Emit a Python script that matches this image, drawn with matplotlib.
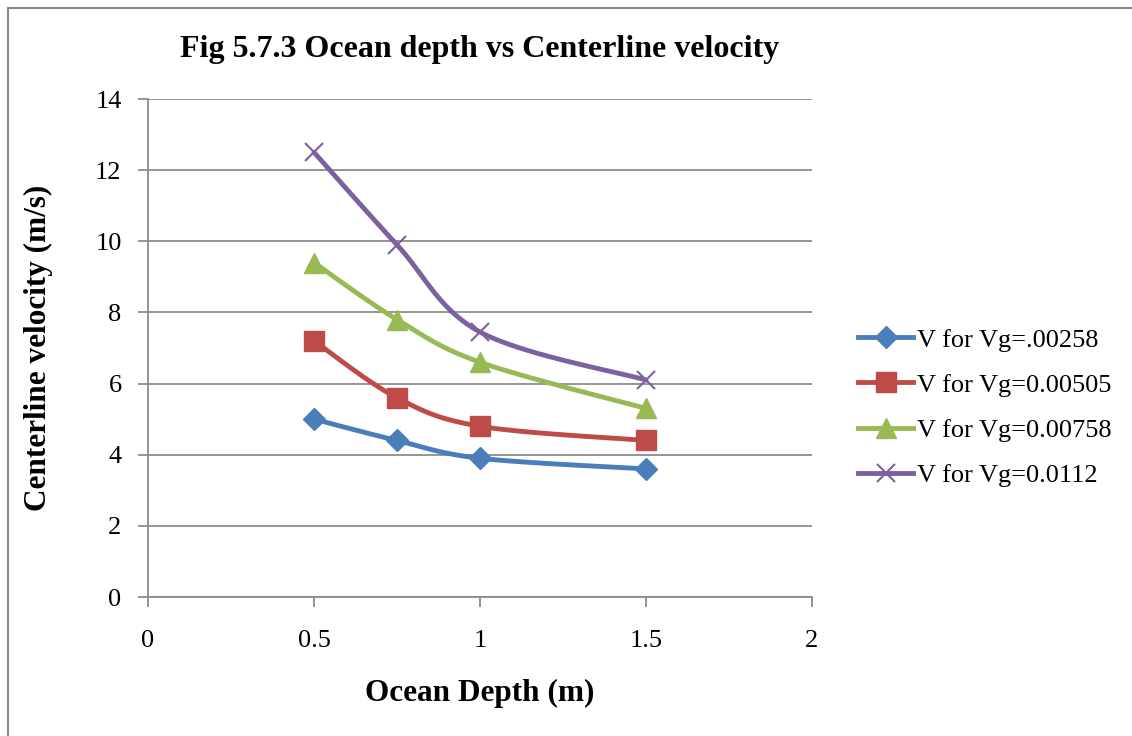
import numpy as np
import matplotlib.pyplot as plt
from matplotlib.patches import Rectangle

plt.rcParams['font.family'] = ['Liberation Serif', 'DejaVu Serif']

depth = [0.5, 0.75, 1.0, 1.5]
v_00258 = [5.0, 4.4, 3.9, 3.6]
v_00505 = [7.2, 5.6, 4.8, 4.4]
v_00758 = [9.4, 7.8, 6.6, 5.3]
v_0112 = [12.5, 9.9, 7.45, 6.1]
labels = ['V for Vg=.00258', 'V for Vg=0.00505', 'V for Vg=0.00758', 'V for Vg=0.0112']

colors = ['#4A7EBB', '#BE4B48', '#98B954', '#7D60A0']
markers = ['D', 's', '^', 'x']
msizes = [11, 14, 14, 13]


def excel_smooth(x, y, sx, sy, n=40):
    # bezier segments like Excel's "smoothed line", worked out in pixel-like units
    px = np.asarray(x) * sx
    py = np.asarray(y) * sy
    P = np.column_stack([px, py])
    out = [P[0]]
    for i in range(len(P) - 1):
        p0 = P[i - 1] if i > 0 else P[i]
        p1 = P[i]
        p2 = P[i + 1]
        p3 = P[i + 2] if i + 2 < len(P) else P[i + 1]
        c1 = p1 + (p2 - p0) / 6
        c2 = p2 - (p3 - p1) / 6
        t = np.linspace(0, 1, n)[1:, None]
        seg = (1 - t) ** 3 * p1 + 3 * (1 - t) ** 2 * t * c1 + 3 * (1 - t) * t ** 2 * c2 + t ** 3 * p2
        out.extend(seg)
    out = np.array(out)
    return out[:, 0] / sx, out[:, 1] / sy


fig = plt.figure(figsize=(11.32, 7.36), dpi=100)
ax = fig.add_axes([148 / 1132, 1 - 597 / 736, 664 / 1132, 498 / 736])

# chart border
fig.patches.append(Rectangle((8 / 1132, -0.05), 1.1, 1 - 8 / 736 + 0.05, transform=fig.transFigure,
                             fill=False, edgecolor='#888888', linewidth=1.5))

sx = 664 / 2
sy = 498 / 14
series = [v_00258, v_00505, v_00758, v_0112]
for vals, c, m, ms, lab in zip(series, colors, markers, msizes, labels):
    xs, ys = excel_smooth(depth, vals, sx, sy)
    ax.plot(xs, ys, color=c, linewidth=3.5, solid_capstyle='round', zorder=3)
    ax.plot(depth, vals, linestyle='none', marker=m, color=c, markersize=ms,
            markeredgewidth=1.5 if m == 'x' else 1, zorder=4)
    ax.plot([], [], color=c, linewidth=3.5, marker=m, markersize=ms,
            markeredgewidth=1.5 if m == 'x' else 1, label=lab)

ax.set_xlim(0, 2)
ax.set_ylim(0, 14)
ax.set_xticks([0, 0.5, 1, 1.5, 2])
ax.set_xticklabels(['0', '0.5', '1', '1.5', '2'])
ax.set_yticks(range(0, 15, 2))
ax.yaxis.grid(True, color='#8C8C8C', linewidth=1.3)
ax.set_axisbelow(True)
for s in ['top', 'right']:
    ax.spines[s].set_visible(False)
for s in ['left', 'bottom']:
    ax.spines[s].set_color('#8C8C8C')
    ax.spines[s].set_linewidth(1.3)
ax.tick_params(axis='both', colors='#8C8C8C', labelcolor='black', labelsize=19,
               length=7, width=1.3)
ax.tick_params(axis='x', pad=17)
ax.tick_params(axis='y', pad=12)

ax.set_title('Fig 5.7.3 Ocean depth vs Centerline velocity', fontsize=23, fontweight='bold', pad=30)
ax.set_xlabel('Ocean Depth (m)', fontsize=22.5, fontweight='bold', labelpad=19)
ax.set_ylabel('Centerline velocity (m/s)', fontsize=22.5, fontweight='bold', labelpad=30)

leg = fig.legend(loc='center left', bbox_to_anchor=(858 / 1132, 1 - 407.5 / 736), frameon=False,
                 fontsize=19, handlelength=2.1, handletextpad=0.15, labelspacing=0.82,
                 borderpad=0, borderaxespad=0)

fig.savefig('out.png', dpi=100)
